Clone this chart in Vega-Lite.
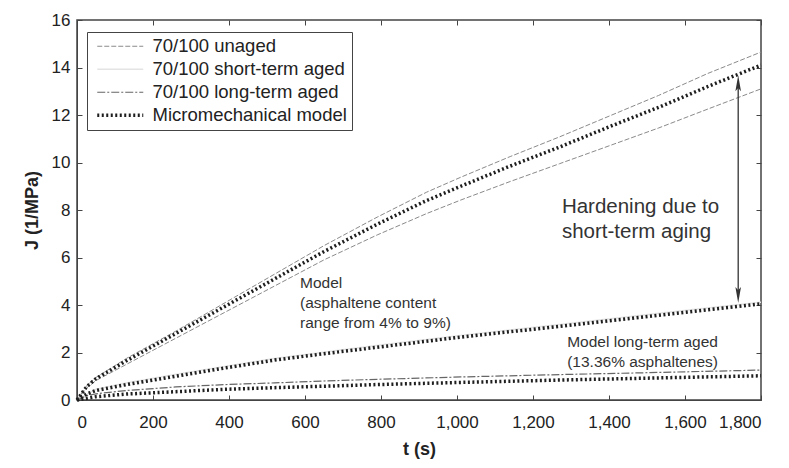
{
  "$schema": "https://vega.github.io/schema/vega-lite/v6.json",
  "width": 684,
  "height": 380,
  "autosize": "none",
  "padding": {"left": 77, "top": 20, "right": 28, "bottom": 68},
  "background": "white",
  "config": {
    "font": "Liberation Sans",
    "view": {"stroke": "#444", "strokeWidth": 1.5},
    "axis": {"grid": false, "labelFont": "Liberation Sans", "titleFont": "Liberation Sans", "labelColor": "#222", "titleColor": "#222", "domainColor": "#444", "tickColor": "#444"}
  },
  "datasets": {
    "curves": [
      {"c":"uh","s":"70/100 unaged","t":0,"J":0},{"c":"uh","s":"70/100 unaged","t":25,"J":0.6},{"c":"uh","s":"70/100 unaged","t":50,"J":0.95},{"c":"uh","s":"70/100 unaged","t":130,"J":1.75},{"c":"uh","s":"70/100 unaged","t":260,"J":2.9},{"c":"uh","s":"70/100 unaged","t":390,"J":4.1},{"c":"uh","s":"70/100 unaged","t":520,"J":5.3},{"c":"uh","s":"70/100 unaged","t":650,"J":6.5},{"c":"uh","s":"70/100 unaged","t":790,"J":7.7},{"c":"uh","s":"70/100 unaged","t":920,"J":8.75},{"c":"uh","s":"70/100 unaged","t":1010,"J":9.38},{"c":"uh","s":"70/100 unaged","t":1140,"J":10.25},{"c":"uh","s":"70/100 unaged","t":1270,"J":11.08},{"c":"uh","s":"70/100 unaged","t":1400,"J":11.95},{"c":"uh","s":"70/100 unaged","t":1530,"J":12.82},{"c":"uh","s":"70/100 unaged","t":1660,"J":13.75},{"c":"uh","s":"70/100 unaged","t":1800,"J":14.65},
      {"c":"ul","s":"70/100 unaged","t":0,"J":0},{"c":"ul","s":"70/100 unaged","t":25,"J":0.5},{"c":"ul","s":"70/100 unaged","t":50,"J":0.82},{"c":"ul","s":"70/100 unaged","t":130,"J":1.5},{"c":"ul","s":"70/100 unaged","t":260,"J":2.6},{"c":"ul","s":"70/100 unaged","t":390,"J":3.7},{"c":"ul","s":"70/100 unaged","t":520,"J":4.8},{"c":"ul","s":"70/100 unaged","t":650,"J":5.9},{"c":"ul","s":"70/100 unaged","t":790,"J":6.95},{"c":"ul","s":"70/100 unaged","t":920,"J":7.85},{"c":"ul","s":"70/100 unaged","t":1010,"J":8.42},{"c":"ul","s":"70/100 unaged","t":1140,"J":9.2},{"c":"ul","s":"70/100 unaged","t":1270,"J":9.95},{"c":"ul","s":"70/100 unaged","t":1400,"J":10.7},{"c":"ul","s":"70/100 unaged","t":1530,"J":11.45},{"c":"ul","s":"70/100 unaged","t":1660,"J":12.25},{"c":"ul","s":"70/100 unaged","t":1800,"J":13.1},
      {"c":"sd","s":"70/100 short-term aged","t":0,"J":0},{"c":"sd","s":"70/100 short-term aged","t":50,"J":0.45},{"c":"sd","s":"70/100 short-term aged","t":130,"J":0.72},{"c":"sd","s":"70/100 short-term aged","t":260,"J":1.08},{"c":"sd","s":"70/100 short-term aged","t":520,"J":1.75},{"c":"sd","s":"70/100 short-term aged","t":790,"J":2.3},{"c":"sd","s":"70/100 short-term aged","t":1010,"J":2.72},{"c":"sd","s":"70/100 short-term aged","t":1270,"J":3.18},{"c":"sd","s":"70/100 short-term aged","t":1530,"J":3.65},{"c":"sd","s":"70/100 short-term aged","t":1800,"J":4.12},
      {"c":"ld","s":"70/100 long-term aged","t":0,"J":0},{"c":"ld","s":"70/100 long-term aged","t":25,"J":0.18},{"c":"ld","s":"70/100 long-term aged","t":50,"J":0.26},{"c":"ld","s":"70/100 long-term aged","t":130,"J":0.4},{"c":"ld","s":"70/100 long-term aged","t":260,"J":0.55},{"c":"ld","s":"70/100 long-term aged","t":390,"J":0.65},{"c":"ld","s":"70/100 long-term aged","t":520,"J":0.72},{"c":"ld","s":"70/100 long-term aged","t":650,"J":0.8},{"c":"ld","s":"70/100 long-term aged","t":790,"J":0.87},{"c":"ld","s":"70/100 long-term aged","t":1010,"J":0.97},{"c":"ld","s":"70/100 long-term aged","t":1270,"J":1.07},{"c":"ld","s":"70/100 long-term aged","t":1530,"J":1.16},{"c":"ld","s":"70/100 long-term aged","t":1800,"J":1.26},
      {"c":"mu","s":"Micromechanical model","t":0,"J":0},{"c":"mu","s":"Micromechanical model","t":25,"J":0.55},{"c":"mu","s":"Micromechanical model","t":50,"J":0.9},{"c":"mu","s":"Micromechanical model","t":130,"J":1.65},{"c":"mu","s":"Micromechanical model","t":260,"J":2.8},{"c":"mu","s":"Micromechanical model","t":390,"J":3.95},{"c":"mu","s":"Micromechanical model","t":520,"J":5.1},{"c":"mu","s":"Micromechanical model","t":650,"J":6.25},{"c":"mu","s":"Micromechanical model","t":790,"J":7.4},{"c":"mu","s":"Micromechanical model","t":920,"J":8.4},{"c":"mu","s":"Micromechanical model","t":1010,"J":9.0},{"c":"mu","s":"Micromechanical model","t":1140,"J":9.85},{"c":"mu","s":"Micromechanical model","t":1270,"J":10.65},{"c":"mu","s":"Micromechanical model","t":1400,"J":11.5},{"c":"mu","s":"Micromechanical model","t":1530,"J":12.32},{"c":"mu","s":"Micromechanical model","t":1660,"J":13.2},{"c":"mu","s":"Micromechanical model","t":1800,"J":14.1},
      {"c":"ms","s":"Micromechanical model","t":0,"J":0},{"c":"ms","s":"Micromechanical model","t":25,"J":0.25},{"c":"ms","s":"Micromechanical model","t":50,"J":0.4},{"c":"ms","s":"Micromechanical model","t":130,"J":0.65},{"c":"ms","s":"Micromechanical model","t":260,"J":1.0},{"c":"ms","s":"Micromechanical model","t":390,"J":1.35},{"c":"ms","s":"Micromechanical model","t":520,"J":1.68},{"c":"ms","s":"Micromechanical model","t":650,"J":1.95},{"c":"ms","s":"Micromechanical model","t":790,"J":2.22},{"c":"ms","s":"Micromechanical model","t":1010,"J":2.65},{"c":"ms","s":"Micromechanical model","t":1270,"J":3.1},{"c":"ms","s":"Micromechanical model","t":1530,"J":3.57},{"c":"ms","s":"Micromechanical model","t":1800,"J":4.05},
      {"c":"ml","s":"Micromechanical model","t":0,"J":0},{"c":"ml","s":"Micromechanical model","t":50,"J":0.14},{"c":"ml","s":"Micromechanical model","t":130,"J":0.25},{"c":"ml","s":"Micromechanical model","t":260,"J":0.35},{"c":"ml","s":"Micromechanical model","t":390,"J":0.45},{"c":"ml","s":"Micromechanical model","t":520,"J":0.52},{"c":"ml","s":"Micromechanical model","t":650,"J":0.58},{"c":"ml","s":"Micromechanical model","t":790,"J":0.65},{"c":"ml","s":"Micromechanical model","t":1010,"J":0.74},{"c":"ml","s":"Micromechanical model","t":1270,"J":0.84},{"c":"ml","s":"Micromechanical model","t":1530,"J":0.93},{"c":"ml","s":"Micromechanical model","t":1800,"J":1.02}
    ],
    "notesBig": [
      {"t":1276,"J":8.13,"text":"Hardening due to"},
      {"t":1276,"J":7.07,"text":"short-term aging"}
    ],
    "notesSmall": [
      {"t":587,"J":4.93,"text":"Model"},
      {"t":587,"J":4.08,"text":"(asphaltene content"},
      {"t":587,"J":3.24,"text":"range from 4% to 9%)"},
      {"t":1290,"J":2.44,"text":"Model long-term aged"},
      {"t":1290,"J":1.6,"text":"(13.36% asphaltenes)"}
    ],
    "arrowLine": [{"t":1740,"J":4.4,"J2":13.4}],
    "arrowHeads": [
      {"t":1740,"J":13.34,"head":"up"},
      {"t":1740,"J":4.42,"head":"down"}
    ]
  },
  "layer": [
    {
      "data": {"name": "curves"},
      "mark": {"type": "line", "opacity": 0},
      "encoding": {
        "x": {"field": "t", "type": "quantitative", "scale": {"domain": [0, 1800], "nice": false, "zero": false},
              "axis": {"orient": "top", "labels": false, "title": null, "domain": false, "values": [0,200,400,600,800,1000,1200,1400,1600,1800], "tickSize": -5}},
        "y": {"field": "J", "type": "quantitative", "scale": {"domain": [0, 16], "nice": false},
              "axis": {"orient": "right", "labels": false, "title": null, "domain": false, "values": [0,2,4,6,8,10,12,14,16], "tickSize": -5}},
        "detail": {"field": "c"}
      }
    },
    {
      "data": {"name": "curves"},
      "mark": {"type": "line", "strokeCap": "butt"},
      "encoding": {
        "x": {"field": "t", "type": "quantitative",
              "axis": {"orient": "bottom", "values": [0,200,400,600,800,1000,1200,1400,1600,1800], "format": ",d", "labelFontSize": 17, "tickSize": -5, "labelPadding": 19, "title": "t (s)", "titleFontSize": 18, "titleFontWeight": "bold", "titlePadding": 10}},
        "y": {"field": "J", "type": "quantitative",
              "axis": {"orient": "left", "values": [0,2,4,6,8,10,12,14,16], "labelFontSize": 17, "tickSize": -5, "labelPadding": 12, "title": "J (1/MPa)", "titleFontSize": 18, "titleFontWeight": "bold", "titlePadding": 10}},
        "detail": {"field": "c"},
        "color": {"field": "s", "type": "nominal",
                  "scale": {"domain": ["70/100 unaged", "70/100 short-term aged", "70/100 long-term aged", "Micromechanical model"], "range": ["#8a8a8a", "#e4e4e4", "#666666", "#1e1e1e"]},
                  "legend": {"title": null, "orient": "none", "legendX": 10, "legendY": 12, "fillColor": "white", "strokeColor": "#444", "padding": 5, "labelFontSize": 18.5, "labelLimit": 400, "labelColor": "#222", "symbolType": "M-0.8,0L8.4,0", "symbolSize": 100, "labelOffset": 42, "rowPadding": 4}},
        "strokeWidth": {"field": "s", "type": "nominal",
                  "scale": {"type": "ordinal", "domain": ["70/100 unaged", "70/100 short-term aged", "70/100 long-term aged", "Micromechanical model"], "range": [1, 1.5, 1.2, 3.5]}},
        "strokeDash": {"field": "s", "type": "nominal",
                  "scale": {"domain": ["70/100 unaged", "70/100 short-term aged", "70/100 long-term aged", "Micromechanical model"], "range": [[5, 2], [1, 0], [8, 2, 2, 2], [2, 2.5]]},
                  "legend": null}
      }
    },
    {
      "data": {"name": "notesBig"},
      "mark": {"type": "text", "align": "left", "baseline": "middle", "fontSize": 20.5, "color": "#333"},
      "encoding": {"x": {"field": "t", "type": "quantitative", "axis": null}, "y": {"field": "J", "type": "quantitative", "axis": null}, "text": {"field": "text"}}
    },
    {
      "data": {"name": "notesSmall"},
      "mark": {"type": "text", "align": "left", "baseline": "middle", "fontSize": 15.5, "color": "#333"},
      "encoding": {"x": {"field": "t", "type": "quantitative", "axis": null}, "y": {"field": "J", "type": "quantitative", "axis": null}, "text": {"field": "text"}}
    },
    {
      "data": {"name": "arrowLine"},
      "mark": {"type": "rule", "color": "#333", "strokeWidth": 1.3},
      "encoding": {"x": {"field": "t", "type": "quantitative", "axis": null}, "y": {"field": "J", "type": "quantitative", "axis": null}, "y2": {"field": "J2"}}
    },
    {
      "data": {"name": "arrowHeads"},
      "mark": {"type": "point", "filled": true, "color": "#333", "opacity": 1, "size": 256},
      "encoding": {
        "x": {"field": "t", "type": "quantitative", "axis": null},
        "y": {"field": "J", "type": "quantitative", "axis": null},
        "shape": {"field": "head", "type": "nominal", "scale": {"domain": ["up", "down"], "range": ["M0,-1L-0.35,1L0,0.6L0.35,1Z", "M0,1L-0.35,-1L0,-0.6L0.35,-1Z"]}, "legend": null}
      }
    }
  ],
  "resolve": {"axis": {"x": "independent", "y": "independent"}}
}
